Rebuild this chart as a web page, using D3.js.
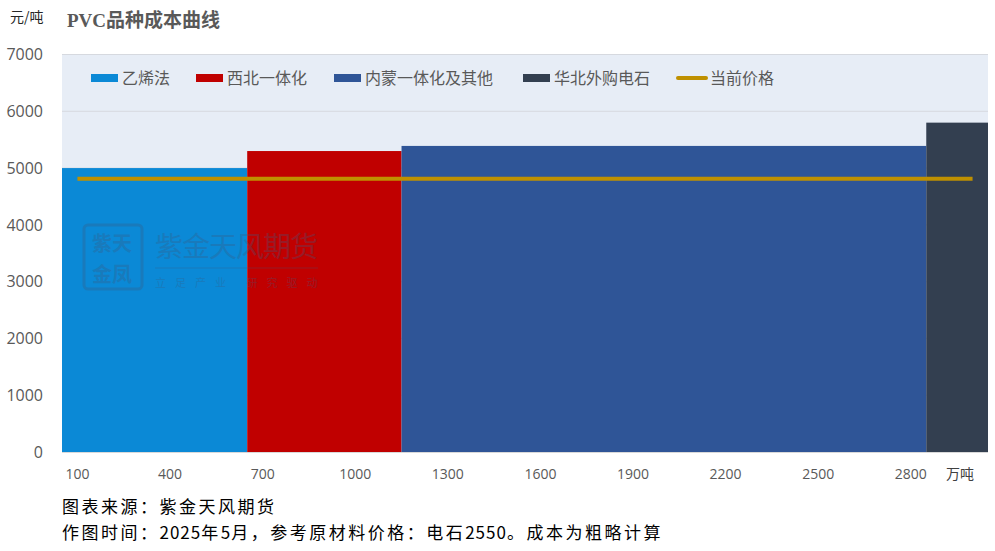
<!DOCTYPE html>
<html><head><meta charset="utf-8">
<script src="https://cdn.jsdelivr.net/npm/d3@7/dist/d3.min.js"></script>
<style>body{margin:0;background:#fff;}svg{display:block;}</style>
</head><body>
<div id="chart"></div>
<script>
const categories = ["乙烯法", "西北一体化", "内蒙一体化及其他", "华北外购电石"];
const capacities = [600, 500, 1700, 200];   // 万吨 (bar widths)
const costs = [5000, 5300, 5390, 5800];     // 元/吨
const curveStart = 50;
const currentPrice = 4810;
const priceRange = [100, 3000];
const xTicks = [100, 400, 700, 1000, 1300, 1600, 1900, 2200, 2500, 2800];
const yTicks = [0, 1000, 2000, 3000, 4000, 5000, 6000, 7000];
const colors = ["#0b89d6", "#c00000", "#2f5597", "#333f50"];
const priceColor = "#bf9000";

const W = 995, H = 551;
const m = {left: 62, right: 7, top: 54.5, bottom: 99};
const svg = d3.select("#chart").append("svg").attr("width", W).attr("height", H);

let acc = curveStart;
const segs = categories.map((c, i) => { const s = {name: c, x0: acc, x1: acc + capacities[i], v: costs[i], color: colors[i]}; acc += capacities[i]; return s; });

const x = d3.scaleLinear().domain([curveStart, acc]).range([m.left, W - m.right]);
const y = d3.scaleLinear().domain([0, 7000]).range([H - m.bottom, m.top]);

// plot background
svg.append("rect").attr("x", x.range()[0]).attr("y", y(7000)).attr("width", x.range()[1] - x.range()[0])
  .attr("height", y(0) - y(7000)).attr("fill", "#e7edf6");

// gridlines
svg.append("g").selectAll("line").data(yTicks).join("line")
  .attr("x1", x.range()[0]).attr("x2", x.range()[1]).attr("y1", d => y(d)).attr("y2", d => y(d))
  .attr("stroke", "#d6d9df").attr("stroke-width", 1);

// y labels
svg.append("g").selectAll("text").data(yTicks).join("text")
  .attr("x", 43).attr("y", d => y(d)).attr("dy", "0.36em").attr("text-anchor", "end")
  .attr("font-family", "Open Sans, sans-serif").attr("font-size", 16).attr("fill", "#595959")
  .text(d => d);

// bars
svg.append("g").selectAll("rect").data(segs).join("rect")
  .attr("x", d => x(d.x0)).attr("width", d => x(d.x1) - x(d.x0))
  .attr("y", d => y(d.v)).attr("height", d => y(0) - y(d.v)).attr("fill", d => d.color);

// watermark
const wm = svg.append("g").attr("opacity", 0.3);
wm.append("rect").attr("x", 84).attr("y", 225).attr("width", 58).attr("height", 64).attr("rx", 4)
  .attr("fill", "none").attr("stroke", "#3a5a80").attr("stroke-width", 3);
wm.append("text").attr("x", 92).attr("y", 251).attr("font-family", "Noto Sans CJK SC").attr("font-size", 20)
  .attr("font-weight", "bold").attr("fill", "#3a5a80").text("紫天");
wm.append("text").attr("x", 92).attr("y", 282).attr("font-family", "Noto Sans CJK SC").attr("font-size", 20)
  .attr("font-weight", "bold").attr("fill", "#3a5a80").text("金凤");
wm.append("text").attr("x", 155).attr("y", 257).attr("font-family", "Noto Sans CJK SC").attr("font-size", 28)
  .attr("textLength", 163).attr("fill", "#3a5a80").text("紫金天风期货");
wm.append("line").attr("x1", 155).attr("x2", 318).attr("y1", 268).attr("y2", 268).attr("stroke", "#3a5a80").attr("stroke-width", 1);
wm.append("text").attr("x", 155).attr("y", 287).attr("font-family", "Noto Sans CJK SC").attr("font-size", 11)
  .attr("letter-spacing", 9).attr("fill", "#3a5a80").text("立足产业 研究驱动");

// x axis line
svg.append("line").attr("x1", x.range()[0]).attr("x2", x.range()[1]).attr("y1", y(0) + 0.5).attr("y2", y(0) + 0.5)
  .attr("stroke", "#d9d9d9");

// price line
svg.append("line").attr("x1", x(priceRange[0])).attr("x2", x(priceRange[1]))
  .attr("y1", y(currentPrice)).attr("y2", y(currentPrice))
  .attr("stroke", priceColor).attr("stroke-width", 4);

// x tick labels
svg.append("g").selectAll("text").data(xTicks).join("text")
  .attr("x", d => x(d)).attr("y", 479).attr("text-anchor", "middle")
  .attr("font-family", "Open Sans, sans-serif").attr("font-size", 14).attr("fill", "#595959")
  .text(d => d);
svg.append("text").attr("x", 960).attr("y", 479).attr("text-anchor", "middle")
  .attr("font-family", "Noto Sans CJK SC").attr("font-size", 14).attr("fill", "#404040").text("万吨");

// legend
const legendItems = categories.map((c, i) => ({name: c, color: colors[i], type: "rect"}))
  .concat([{name: "当前价格", color: priceColor, type: "line"}]);
const legendX = [91, 196, 334, 523, 677];
const lg = svg.append("g").selectAll("g").data(legendItems).join("g")
  .attr("transform", (d, i) => `translate(${legendX[i]},78)`);
lg.each(function(d) {
  const g = d3.select(this);
  if (d.type === "rect") g.append("rect").attr("x", 0).attr("y", -4).attr("width", 27).attr("height", 8).attr("fill", d.color);
  else g.append("line").attr("x1", 1).attr("x2", 29).attr("y1", 0).attr("y2", 0).attr("stroke", d.color).attr("stroke-width", 4).attr("stroke-linecap", "round");
  g.append("text").attr("x", d.type === "rect" ? 31 : 33).attr("y", 0).attr("dy", "0.36em")
    .attr("font-family", "Noto Sans CJK SC").attr("font-size", 16).attr("fill", "#595959").text(d.name);
});

// title & unit
svg.append("text").attr("x", 10).attr("y", 22).attr("font-family", "Noto Sans CJK SC").attr("font-size", 14)
  .attr("fill", "#262626").text("元/吨");
svg.append("text").attr("x", 67).attr("y", 27).attr("font-family", "Liberation Serif, Noto Sans CJK SC").attr("font-size", 19)
  .attr("font-weight", "bold").attr("fill", "#595959").text("PVC品种成本曲线");

// footer
function footer(yPos, parts) {
  const t = svg.append("text").attr("x", 62).attr("y", yPos).attr("font-family", "Noto Sans CJK SC")
    .attr("font-size", 17).attr("fill", "#000");
  parts.forEach(p => t.append("tspan").attr("letter-spacing", /^\d+$/.test(p) ? 1 : 2.5).text(p));
}
footer(513, ["图表来源：紫金天风期货"]);
footer(539, ["作图时间：", "2025", "年", "5", "月，参考原材料价格：电石", "2550", "。成本为粗略计算"]);
</script>
</body></html>
